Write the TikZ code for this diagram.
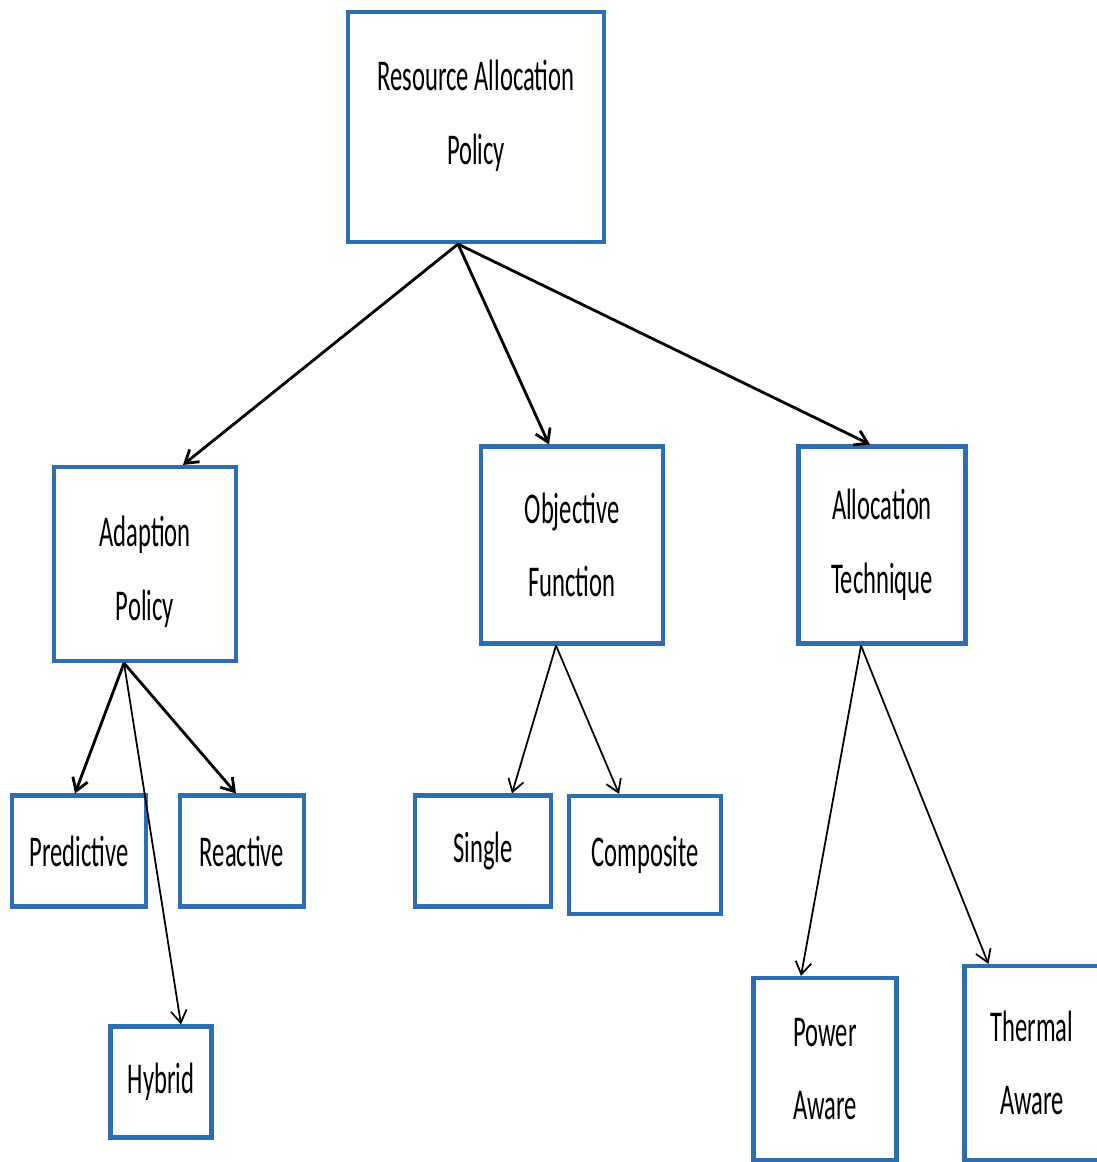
\documentclass[tikz,border=0pt]{standalone}
\usepackage{fontspec}
\setmainfont{Carlito}[FakeStretch=0.56]
\usepackage{tikz}
\usetikzlibrary{arrows.meta, positioning}

\definecolor{boxblue}{RGB}{46,109,180}

\tikzset{
  box/.style={draw=boxblue, line width=2.4pt, fill=white, inner sep=0pt,
    align=center, font={\fontsize{25}{42}\selectfont}},
  link/.style={-{Straight Barb[length=7pt, width=9pt]}, line width=1.6pt, black},
  thinlink/.style={-{Straight Barb[length=7pt, width=9pt]}, line width=1pt, black}
}

\begin{document}
\begin{tikzpicture}[x=0.02cm, y=-0.02cm]
\useasboundingbox (0,0) rectangle (1096,1162);

% top level
\node[box, minimum width=5.12cm, minimum height=4.6cm] (root) at (476,127)
    {Resource Allocation\\Policy\\[-0.9cm]};

% second level
\node[box, minimum width=3.64cm, minimum height=3.88cm] (adapt) at (145,564)
    {\\[-0.54cm]Adaption\\Policy};
\node[box, minimum width=3.64cm, minimum height=3.94cm] (objfn) at (572,545)
    {Objective\\Function};
\node[box, minimum width=3.34cm, minimum height=3.94cm] (alloc) at (882,545)
    {Allocation\\Technique};

% third level
\node[box, minimum width=2.68cm, minimum height=2.22cm] (pred) at (79,851) {Predictive};
\node[box, minimum width=2.48cm, minimum height=2.22cm] (react) at (242,851) {Reactive};
\node[box, minimum width=2.02cm, minimum height=2.22cm] (hybrid) at (161,1082) {Hybrid};
\node[box, minimum width=2.72cm, minimum height=2.22cm] (single) at (483,851) {Single};
\node[box, minimum width=3.04cm, minimum height=2.36cm] (comp) at (645,855) {Composite};
\node[box, minimum width=2.86cm, minimum height=3.64cm] (power) at (825,1069)
    {Power\\Aware};
\node[box, minimum width=2.7cm, minimum height=3.88cm] (thermal) at (1032,1063)
    {Thermal\\Aware};

% connectors
\draw[link] ([xshift=-0.36cm]root.south) -- ([xshift=0.76cm]adapt.north);
\draw[link] ([xshift=-0.36cm]root.south) -- ([xshift=-0.46cm]objfn.north);
\draw[link] ([xshift=-0.36cm]root.south) -- ([xshift=-0.24cm]alloc.north);

\draw[link] ([xshift=-0.42cm]adapt.south) -- ([xshift=-0.08cm]pred.north);
\draw[link] ([xshift=-0.42cm]adapt.south) -- ([xshift=-0.12cm]react.north);
\draw[thinlink] ([xshift=-0.42cm]adapt.south) -- ([xshift=0.4cm]hybrid.north);

\draw[thinlink] ([xshift=-0.32cm]objfn.south) -- ([xshift=0.58cm]single.north);
\draw[thinlink] ([xshift=-0.32cm]objfn.south) -- ([xshift=-0.52cm]comp.north);

\draw[thinlink] ([xshift=-0.42cm]alloc.south) -- ([xshift=-0.48cm]power.north);
\draw[thinlink] ([xshift=-0.42cm]alloc.south) -- ([xshift=0.52cm]thermal.north west);
\end{tikzpicture}
\end{document}
